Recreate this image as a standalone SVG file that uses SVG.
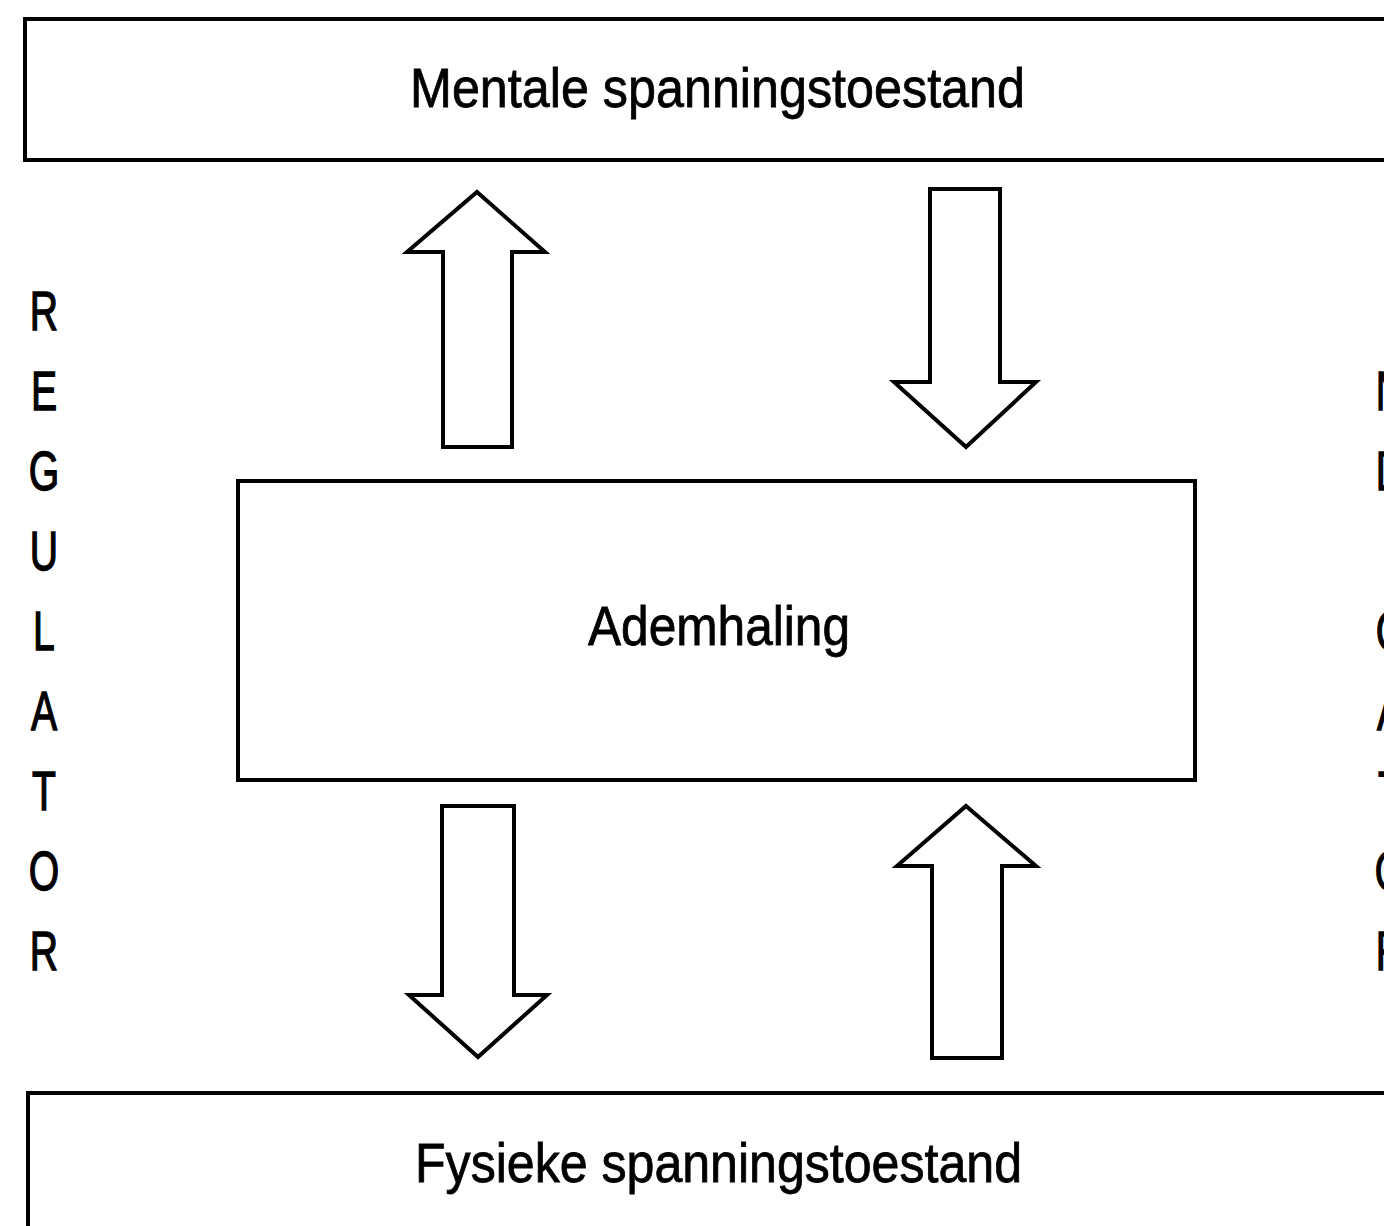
<svg xmlns="http://www.w3.org/2000/svg" width="1384" height="1226" viewBox="0 0 1384 1226">
<style>
.box{fill:#fff;stroke:#000;stroke-width:4}
.arrow{fill:#fff;stroke:#000;stroke-width:4;stroke-linejoin:miter}
.lbl{font-family:"Liberation Sans",Arial,sans-serif;font-size:56px;fill:#000;stroke:#000;stroke-width:0.8}
.v{font-family:"Liberation Sans",Arial,sans-serif;font-size:56px;fill:#000;stroke:#000;stroke-width:1.4;text-anchor:middle}
</style>
<rect width="1384" height="1226" fill="#fff"/>
<g id="node-mentale">
<rect class="box" x="25" y="19" width="1400" height="141"/>
<text class="lbl" x="410" y="107" textLength="615" lengthAdjust="spacingAndGlyphs">Mentale spanningstoestand</text>
</g>
<g id="node-ademhaling">
<rect class="box" x="238" y="481" width="957" height="299"/>
<text class="lbl" x="588" y="645" textLength="262" lengthAdjust="spacingAndGlyphs">Ademhaling</text>
</g>
<g id="node-fysieke">
<rect class="box" x="28" y="1093" width="1400" height="200"/>
<text class="lbl" x="415" y="1182" textLength="607" lengthAdjust="spacingAndGlyphs">Fysieke spanningstoestand</text>
</g>
<g id="label-regulator">
<text class="v" transform="translate(44,330) scale(0.7,1)">R</text>
<text class="v" transform="translate(44,410) scale(0.7,1)">E</text>
<text class="v" transform="translate(44,490) scale(0.7,1)">G</text>
<text class="v" transform="translate(44,570) scale(0.7,1)">U</text>
<text class="v" transform="translate(44,650) scale(0.7,1)">L</text>
<text class="v" transform="translate(44,730) scale(0.7,1)">A</text>
<text class="v" transform="translate(44,810) scale(0.7,1)">T</text>
<text class="v" transform="translate(44,890) scale(0.7,1)">O</text>
<text class="v" transform="translate(44,970) scale(0.7,1)">R</text>
</g>
<g id="label-indicator">
<text class="v" transform="translate(1390,330) scale(0.7,1)">I</text>
<text class="v" transform="translate(1390,410) scale(0.7,1)">N</text>
<text class="v" transform="translate(1390,490) scale(0.7,1)">D</text>
<text class="v" transform="translate(1390,570) scale(0.7,1)">I</text>
<text class="v" transform="translate(1390,650) scale(0.7,1)">C</text>
<text class="v" transform="translate(1390,730) scale(0.7,1)">A</text>
<text class="v" transform="translate(1390,810) scale(0.7,1)">T</text>
<text class="v" transform="translate(1390,890) scale(0.7,1)">O</text>
<text class="v" transform="translate(1390,970) scale(0.7,1)">R</text>
</g>
<g id="connectors">
<polygon class="arrow" points="477,192 545,252 512,252 512,447 443,447 443,252 407,252"/>
<polygon class="arrow" points="930,189 1000,189 1000,382 1036,382 966,447 894,382 930,382"/>
<polygon class="arrow" points="442,806 514,806 514,995 547,995 478,1057 409,995 442,995"/>
<polygon class="arrow" points="966,806 1036,866 1002,866 1002,1058 932,1058 932,866 897,866"/>
</g>
</svg>
